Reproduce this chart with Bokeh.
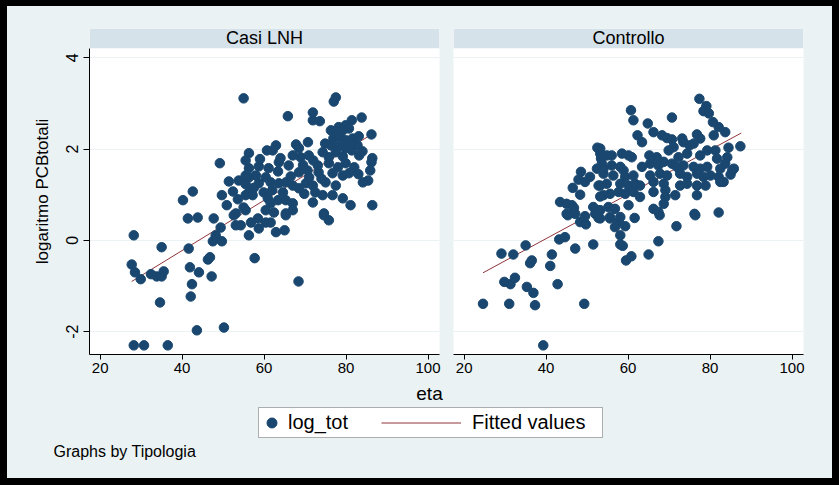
from bokeh.plotting import figure
from bokeh.models import (Range1d, FixedTicker, BoxAnnotation, Label, Legend,
                          LegendItem)
from bokeh.layouts import row, column
from bokeh.embed import file_html
from bokeh.resources import INLINE

# ---------------- data ----------------
panel_titles = ["Casi LNH", "Controllo"]
x_ticks = [20, 40, 60, 80, 100]
y_ticks = [-2, 0, 2, 4]
y_tick_labels = {-2: "-2", 0: "0", 2: "2", 4: "4"}

# Casi LNH: eta / log_tot
casi_eta = [
    28.2, 27.7, 28.5, 29.9, 32.4, 33.8, 35.0, 35.5, 35.0, 41.6,
    41.9, 44.1, 46.3, 46.8, 47.2, 42.4, 42.1, 34.6, 57.7, 68.4,
    43.6, 50.2, 28.2, 30.7, 36.5, 47.5, 49.7, 56.3, 40.2, 42.6,
    41.4, 43.8, 47.7, 52.6, 49.4, 53.1, 54.3, 48.2, 49.2, 51.4,
    53.8, 55.5, 49.7, 52.4, 50.9, 53.6, 55.5, 56.3, 55.0, 53.1,
    55.0, 56.3, 55.5, 56.3, 56.3, 58.5, 60.4, 58.7, 56.8, 62.9,
    65.0, 65.3, 75.8, 74.6, 61.6,
    77.5, 77.0, 65.8, 71.9, 71.9, 73.6, 83.8, 81.4, 79.9, 78.2,
    83.1, 86.2, 82.8, 74.9, 70.7, 67.8, 68.5, 62.9, 62.1, 60.7,
    83.2, 86.4, 86.2, 74.3, 63.6, 67.0, 68.9, 70.9, 58.7, 61.1,
    66.0, 73.1, 75.8, 79.9, 85.9, 55.5, 58.0, 60.4, 63.4, 68.5,
    70.6, 73.3, 76.7, 79.2, 80.7, 85.4, 84.1, 58.7, 61.6, 63.6,
    65.3, 67.0, 70.2, 71.9, 75.0, 77.5, 57.2, 59.9, 60.9, 64.6,
    65.3, 68.5, 74.3, 76.7, 79.2, 61.6, 63.4, 67.0, 71.9, 81.1,
    86.4, 60.4, 62.4, 65.3, 67.0, 74.6, 55.5, 76.3, 77.7, 79.2,
    80.7, 76.9, 78.6, 80.0, 81.6, 76.3, 78.2, 79.9, 77.5, 79.2,
    81.4, 75.8,
    64.0, 69.5, 72.0, 66.5, 71.0, 74.0, 62.0, 69.8, 72.5, 78.0,
    82.0, 84.0, 81.0, 83.0, 59.0, 57.5,
]
casi_log = [
    0.11, -0.53, -0.70, -0.85, -0.74, -0.79, -0.79, -0.68, -0.15, -0.18,
    -0.59, -0.70, -0.42, -0.37, -0.79, -0.96, -1.23, -1.36, -0.39, -0.90,
    -1.97, -1.91, -2.30, -2.30, -2.30, -0.02, -0.02, 0.11, 0.88, 1.07,
    0.48, 0.50, 0.48, 0.55, 0.28, 0.33, 0.33, 0.11, 1.69, 1.29,
    1.31, 1.23, 0.99, 1.07, 0.77, 0.90, 0.99, 1.05, 0.72, 0.59,
    3.11, 1.91, 1.75, 1.58, 1.38, 0.48, 0.39, 0.26, 0.39, 0.18,
    0.22, 0.55, 0.44, 0.55, 0.39,
    3.13, 3.04, 2.72, 2.80, 2.63, 2.61, 2.69, 2.63, 2.52, 2.48,
    2.28, 2.32, 2.08, 2.12, 2.15, 2.10, 2.02, 2.08, 1.97, 1.97,
    1.86, 1.80, 1.71, 1.93, 1.71, 1.86, 1.82, 1.86, 1.62, 1.58,
    1.64, 1.64, 1.69, 1.69, 1.53, 1.42, 1.42, 1.38, 1.51, 1.49,
    1.53, 1.49, 1.47, 1.42, 1.47, 1.31, 1.27, 1.25, 1.27, 1.25,
    1.27, 1.20, 1.25, 1.20, 1.27, 1.20, 0.99, 1.05, 0.92, 1.05,
    0.88, 1.14, 0.99, 0.99, 0.92, 0.81, 0.88, 0.81, 0.83, 0.77,
    0.77, 0.66, 0.61, 0.59, 0.66, 0.59, 0.66, 2.41, 2.37, 2.41,
    2.45, 2.23, 2.26, 2.19, 2.23, 2.08, 2.06, 2.02, 1.93, 1.84,
    1.97, 1.82,
    1.80, 1.65, 1.75, 1.40, 1.38, 1.35, 1.10, 1.02, 1.05, 1.60,
    1.60, 1.95, 2.10, 1.45, 1.78, 1.15,
]
casi_fit_eta = [27.7, 86.4]
casi_fit_log = [-0.90, 2.33]

# Controllo: eta / log_tot
ctrl_eta = [
    24.6, 31.0, 37.3, 49.3, 39.3, 29.8, 31.3, 32.4, 35.3, 36.9,
    42.8, 29.1, 32.0, 35.0, 36.5, 36.1, 41.4, 41.0, 43.2, 44.6,
    47.1, 51.5, 48.3, 49.7, 52.8, 45.3, 58.1, 59.5, 60.8, 65.0,
    67.4, 53.2, 55.6, 57.7, 56.8, 59.3, 61.6, 67.7, 76.4, 71.8,
    58.7, 58.1, 77.4, 79.1, 78.4, 79.7, 60.7, 61.3, 70.7, 64.8,
    80.7, 82.1, 83.7, 66.2, 68.3, 69.5, 70.7, 62.3, 63.4, 73.2,
    73.5, 76.8, 77.6, 80.9, 75.0, 76.0, 87.4, 84.5, 71.1, 69.9,
    79.3, 81.3, 53.2, 54.8, 56.0, 58.5, 60.9, 60.1, 65.2, 67.0,
    72.3, 74.4, 77.6, 84.2, 83.7, 81.7, 53.6, 56.0, 58.1, 58.9,
    63.4, 65.4, 67.4, 68.7, 70.7, 71.9, 73.5, 76.0, 77.6, 79.3,
    82.5, 85.4, 85.0, 54.0, 56.4, 59.3, 61.3, 65.4, 67.8, 69.5,
    72.7, 74.4, 76.8, 78.4, 80.1, 82.1, 82.5, 54.8, 53.2, 58.1,
    60.1, 61.7, 62.9, 66.2, 68.7, 72.7, 74.4, 76.8, 78.9, 55.6,
    54.0, 57.7, 59.3, 61.3, 62.9, 66.2, 69.1, 69.1, 71.5, 76.8,
    55.2, 56.8, 60.1, 66.2, 67.4, 68.7, 76.2, 82.1, 53.2, 55.6,
    58.1, 52.5, 53.2, 53.4, 48.5, 50.7, 49.5, 47.9, 52.4, 54.0,
    52.8, 46.5, 48.3, 53.2, 43.4, 45.0, 46.3, 46.8, 51.5, 52.8,
    45.0, 47.1, 49.5, 52.0, 85.8, 83.3,
]
ctrl_log = [
    -1.39, -1.39, -1.42, -1.39, -2.30, -0.91, -0.96, -0.82, -1.02, -1.15,
    -0.96, -0.29, -0.31, -0.11, -0.44, -0.50, -0.31, -0.56, 0.02, 0.07,
    -0.18, -0.09, 0.40, 0.35, 0.49, 0.55, -0.09, -0.44, -0.35, -0.31,
    -0.02, 0.48, 0.48, 0.40, 0.29, 0.31, 0.49, 0.55, 0.55, 0.31,
    -0.12, 0.11, 3.10, 2.94, 2.83, 2.78, 2.85, 2.63, 2.69, 2.56,
    2.59, 2.48, 2.37, 2.37, 2.30, 2.24, 2.21, 2.30, 2.15, 2.23,
    2.15, 2.32, 2.23, 2.30, 2.08, 2.12, 2.06, 2.03, 2.04, 1.97,
    1.97, 1.97, 2.01, 1.86, 1.86, 1.90, 1.82, 1.86, 1.86, 1.82,
    1.82, 1.90, 1.86, 1.82, 1.68, 1.79, 1.68, 1.64, 1.61, 1.53,
    1.61, 1.68, 1.64, 1.72, 1.68, 1.61, 1.64, 1.61, 1.57, 1.61,
    1.57, 1.53, 1.44, 1.46, 1.42, 1.39, 1.42, 1.42, 1.46, 1.42,
    1.46, 1.39, 1.46, 1.39, 1.42, 1.39, 1.28, 1.24, 1.20, 1.24,
    1.20, 1.24, 1.20, 1.28, 1.24, 1.20, 1.24, 1.20, 1.20, 1.02,
    0.99, 1.06, 1.02, 1.06, 0.95, 1.06, 1.10, 0.95, 0.99, 0.99,
    0.73, 0.69, 0.77, 0.69, 0.62, 0.80, 0.58, 0.61, 0.66, 0.51,
    0.51, 2.03, 1.90, 1.79, 1.50, 1.39, 1.28, 1.33, 1.57, 1.57,
    1.20, 1.15, 1.00, 0.96, 0.84, 0.80, 0.77, 0.71, 0.73, 0.66,
    0.58, 0.58, 0.53, 0.58, 1.57, 1.28,
]
ctrl_fit_eta = [24.6, 87.6]
ctrl_fit_log = [-0.71, 2.35]

legend_labels = ["log_tot", "Fitted values"]
x_title = "eta"
y_title = "logaritmo PCBtotali"
note_text = "Graphs by Tipologia"

# ---------------- style ----------------
FONT = "Liberation Sans"
BG = "#eaf2f3"
BAR = "#d6e2e9"
GRID = "#eaf2f3"
NAVY = "#1a476f"
MAROON = "#90353b"

x_range = Range1d(17.4, 102.8)
y_range = Range1d(-2.50, 4.64)
plot_top = 4.206     # top of the white plot region (title bar above it)
ROW_H = 374


def make_panel(title, xs, ys, fx, fy, width, left, right, with_y):
    p = figure(width=width, height=ROW_H, x_range=x_range, y_range=y_range,
               output_backend="svg", toolbar_location=None,
               y_axis_location="left" if with_y else None,
               min_border_left=left, min_border_right=right,
               min_border_top=22, min_border_bottom=26)
    p.background_fill_color = "white"
    p.border_fill_color = BG
    p.outline_line_color = None

    ax = p.xaxis[0]
    ax.ticker = FixedTicker(ticks=x_ticks)
    ax.axis_line_color = "black"
    ax.major_tick_line_color = "black"
    ax.major_tick_out = 5
    ax.major_tick_in = 0
    ax.minor_tick_line_color = None
    ax.major_label_text_font = FONT
    ax.major_label_text_font_size = "15px"
    ax.major_label_text_color = "black"
    ax.major_label_standoff = 3
    p.xgrid.visible = False

    p.ygrid.ticker = FixedTicker(ticks=y_ticks)
    p.ygrid.grid_line_color = GRID
    p.ygrid.grid_line_width = 1

    if with_y:
        ay = p.yaxis[0]
        ay.ticker = FixedTicker(ticks=y_ticks)
        ay.major_label_overrides = y_tick_labels
        ay.bounds = (y_range.start, plot_top)
        ay.axis_line_color = "black"
        ay.major_tick_line_color = "black"
        ay.major_tick_out = 6
        ay.major_tick_in = 0
        ay.minor_tick_line_color = None
        ay.major_label_orientation = "vertical"
        ay.major_label_text_font = FONT
        ay.major_label_text_font_size = "16px"
        ay.major_label_text_color = "black"
        ay.major_label_standoff = 5
        ay.axis_label = y_title
        ay.axis_label_text_font = FONT
        ay.axis_label_text_font_size = "17px"
        ay.axis_label_text_font_style = "normal"
        ay.axis_label_text_color = "black"
        ay.axis_label_standoff = 12

    bar = BoxAnnotation(bottom=plot_top, fill_color=BAR, fill_alpha=1,
                        line_color=None)
    p.add_layout(bar)
    p.add_layout(Label(x=(x_range.start + x_range.end) / 2, y=4.425,
                       text=title, text_align="center",
                       text_baseline="middle", text_font=FONT,
                       text_font_size="18px", text_color="black"))

    p.line(fx, fy, line_color=MAROON, line_width=1)
    p.scatter(xs, ys, marker="circle", size=9.5, fill_color=NAVY,
              line_color=NAVY)
    return p


f1 = make_panel(panel_titles[0], casi_eta, casi_log, casi_fit_eta,
                casi_fit_log, 439, 82, 7, True)
f2 = make_panel(panel_titles[1], ctrl_eta, ctrl_log, ctrl_fit_eta,
                ctrl_fit_log, 386, 7, 29, False)

# ---------------- bottom strip: x title, legend, note ----------------
W3, H3 = 825, 98
f3 = figure(width=W3, height=H3, x_range=Range1d(0, W3),
            y_range=Range1d(0, H3), output_backend="svg",
            toolbar_location=None, x_axis_location=None,
            y_axis_location=None, min_border=0)
f3.background_fill_color = BG
f3.border_fill_color = BG
f3.outline_line_color = None
f3.grid.visible = False

box = BoxAnnotation(left=251, right=595, bottom=41, top=71,
                    fill_color="white", fill_alpha=1, line_color="black",
                    line_width=1, level="underlay")
f3.add_layout(box)

# legend proxies (same styles as the panel glyphs, not shown themselves)
r_dot = f3.scatter(casi_eta, casi_log, marker="circle", size=9.5,
                   fill_color=NAVY, line_color=NAVY, visible=False)
r_line = f3.line(casi_fit_eta, casi_fit_log, line_color=MAROON,
                 line_width=1, visible=False)

leg_common = dict(orientation="horizontal", padding=0, margin=0, spacing=0,
                  border_line_color=None, background_fill_alpha=0,
                  label_text_font=FONT, label_text_font_size="20px",
                  label_text_color="black", glyph_height=25, label_height=25)
leg1 = Legend(items=[LegendItem(label=legend_labels[0], renderers=[r_dot])],
              location=(252, 43), glyph_width=25, label_standoff=4,
              **leg_common)
leg2 = Legend(items=[LegendItem(label=legend_labels[1], renderers=[r_line])],
              location=(374, 43), glyph_width=80, label_standoff=11,
              **leg_common)
f3.add_layout(leg1)
f3.add_layout(leg2)

f3.add_layout(Label(x=422, y=H3 - 2, text=x_title, text_align="center",
                    text_baseline="top", text_font=FONT,
                    text_font_size="19px", text_color="black"))
f3.add_layout(Label(x=46, y=27, text=note_text, text_align="left",
                    text_baseline="middle", text_font=FONT,
                    text_font_size="16px", text_color="black"))

p = column(row(f1, f2, styles={"background-color": BG}), f3,
           styles={"background-color": BG})

html = file_html(p, INLINE, title="log_tot by Tipologia")
html = html.replace(
    "</head>",
    "<style>html, body {background-color:#000000;} "
    "body {margin:0; padding:6px 0 0 7px;}</style></head>", 1)
open("out.html", "w").write(html)
